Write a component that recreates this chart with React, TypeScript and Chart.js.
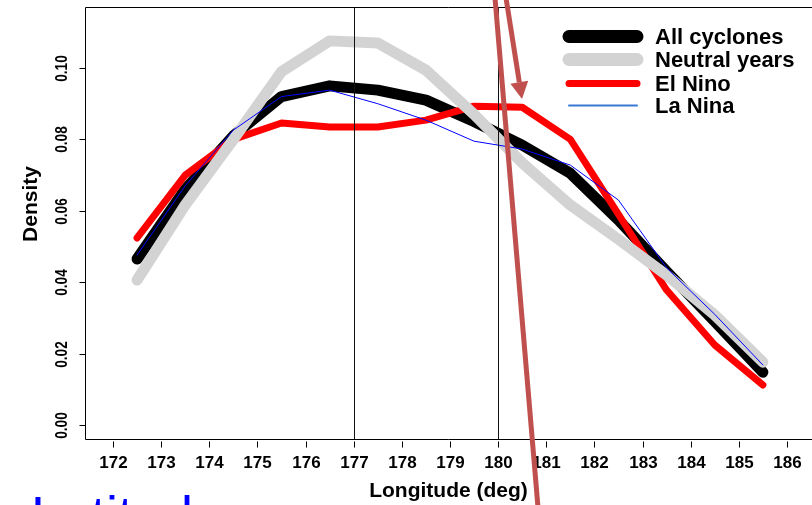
import React, { useEffect, useRef } from 'react';
import { Chart, registerables } from 'chart.js';

Chart.register(...registerables);

// ---- data ----
const longitudes = [172.5, 173.5, 174.5, 175.5, 176.5, 177.5, 178.5, 179.5, 180.5, 181.5, 182.5, 183.5, 184.5, 185.5];
const allCyclones = [0.0465, 0.066, 0.081, 0.092, 0.095, 0.0938, 0.091, 0.085, 0.0784, 0.0705, 0.0574, 0.043, 0.029, 0.0148];
const neutralYears = [0.0406, 0.0616, 0.080, 0.099, 0.1076, 0.107, 0.0994, 0.087, 0.0734, 0.0616, 0.052, 0.042, 0.0308, 0.0176];
const elNino = [0.0524, 0.070, 0.080, 0.0846, 0.0835, 0.0835, 0.0854, 0.0893, 0.0890, 0.080, 0.059, 0.0378, 0.0224, 0.0112];
const laNina = [0.0476, 0.067, 0.0826, 0.092, 0.0938, 0.090, 0.0854, 0.0795, 0.0773, 0.0728, 0.063, 0.044, 0.031, 0.0168];

const seriesLabels = ['All cyclones', 'Neutral years', 'El Nino', 'La Nina'];
const xTicks = [172, 173, 174, 175, 176, 177, 178, 179, 180, 181, 182, 183, 184, 185, 186];
const yTicks = [0, 0.02, 0.04, 0.06, 0.08, 0.10];
const yTickLabels = ['0.00', '0.02', '0.04', '0.06', '0.08', '0.10'];
const refLines = [177, 180];
const xTitle = 'Longitude (deg)';
const yTitle = 'Density';
const cutText = 'Latitude';

// annotation overlay (data coordinates)
const annoLongLine = [[179.935, 0.1196], [180.828, -0.023]];
const annoArrow = [[180.164, 0.1196], [180.496, 0.0913]];

const FONT = '"Liberation Sans", Arial, sans-serif';

const rPlugin = {
  id: 'rstyle',
  afterDatasetsDraw(chart: any) {
    const { ctx, chartArea, scales } = chart;
    const x = scales.x;
    ctx.save();
    ctx.strokeStyle = '#111';
    ctx.lineWidth = 1;
    refLines.forEach((v) => {
      const px = Math.round(x.getPixelForValue(v)) + 0.5;
      ctx.beginPath();
      ctx.moveTo(px, chartArea.top);
      ctx.lineTo(px, chartArea.bottom);
      ctx.stroke();
    });
    ctx.restore();
  },
  afterDraw(chart: any) {
    const { ctx, chartArea, scales } = chart;
    const x = scales.x, y = scales.y;
    const L = chartArea.left + 0.5, T = chartArea.top + 0.5, B = chartArea.bottom + 0.5, R = chartArea.right;
    ctx.save();
    // frame (left, top, bottom)
    ctx.strokeStyle = '#000';
    ctx.lineWidth = 1;
    ctx.beginPath();
    ctx.moveTo(R, T); ctx.lineTo(L, T); ctx.lineTo(L, B); ctx.lineTo(R, B);
    ctx.stroke();

    // x ticks + labels
    ctx.fillStyle = '#000';
    ctx.font = `bold 17px ${FONT}`;
    ctx.textAlign = 'center';
    ctx.textBaseline = 'alphabetic';
    xTicks.forEach((v) => {
      const px = Math.round(x.getPixelForValue(v)) + 0.5;
      ctx.beginPath();
      ctx.moveTo(px, B + 2);
      ctx.lineTo(px, B + 8);
      ctx.stroke();
      ctx.fillText(String(v), px, B + 28);
    });
    // y ticks + labels
    yTicks.forEach((v, i) => {
      const py = Math.round(y.getPixelForValue(v)) + 0.5;
      ctx.beginPath();
      ctx.moveTo(L - 6, py);
      ctx.lineTo(L, py);
      ctx.stroke();
      ctx.save();
      ctx.translate(67, py);
      ctx.rotate(-Math.PI / 2);
      ctx.scale(0.8, 1);
      ctx.font = `bold 17px ${FONT}`;
      ctx.textAlign = 'center';
      ctx.fillText(yTickLabels[i], 0, 0);
      ctx.restore();
    });
    // axis titles
    ctx.font = `bold 21px ${FONT}`;
    ctx.textAlign = 'center';
    ctx.fillText(xTitle, (chartArea.left + chartArea.right) / 2, 497);
    ctx.save();
    ctx.translate(37, 204);
    ctx.rotate(-Math.PI / 2);
    ctx.fillText(yTitle, 0, 0);
    ctx.restore();

    // legend
    const legendStyles = [
      { c: '#000000', w: 13 },
      { c: '#d3d3d3', w: 13 },
      { c: '#ff0000', w: 7 },
      { c: '#3a78d6', w: 2 },
    ];
    const baselines = [44, 67, 91, 113];
    ctx.font = `bold 22px ${FONT}`;
    ctx.textAlign = 'left';
    seriesLabels.forEach((lab, i) => {
      const ly = baselines[i] - 7.5;
      ctx.strokeStyle = legendStyles[i].c;
      ctx.lineWidth = legendStyles[i].w;
      ctx.lineCap = 'round';
      ctx.beginPath();
      ctx.moveTo(569, ly);
      ctx.lineTo(637, ly);
      ctx.stroke();
      ctx.fillStyle = '#000';
      ctx.fillText(lab, 655, baselines[i]);
    });

    // annotation overlay
    const ac = '#c0504d';
    ctx.strokeStyle = ac;
    ctx.fillStyle = ac;
    ctx.lineCap = 'butt';
    ctx.lineWidth = 5;
    ctx.beginPath();
    ctx.moveTo(x.getPixelForValue(annoLongLine[0][0]), y.getPixelForValue(annoLongLine[0][1]));
    ctx.lineTo(x.getPixelForValue(annoLongLine[1][0]), y.getPixelForValue(annoLongLine[1][1]));
    ctx.stroke();
    const ax0 = x.getPixelForValue(annoArrow[0][0]), ay0 = y.getPixelForValue(annoArrow[0][1]);
    const ax1 = x.getPixelForValue(annoArrow[1][0]), ay1 = y.getPixelForValue(annoArrow[1][1]);
    const ang = Math.atan2(ay1 - ay0, ax1 - ax0);
    const hl = 17, hw = 9;
    const bx = ax1 - hl * Math.cos(ang), by = ay1 - hl * Math.sin(ang);
    ctx.beginPath();
    ctx.moveTo(ax0, ay0);
    ctx.lineTo(bx, by);
    ctx.stroke();
    ctx.beginPath();
    ctx.moveTo(ax1, ay1);
    ctx.lineTo(bx + hw * Math.sin(ang), by - hw * Math.cos(ang));
    ctx.lineTo(bx - hw * Math.sin(ang), by + hw * Math.cos(ang));
    ctx.closePath();
    ctx.fill();

    // cut-off slide text (only the tops of its tall letters show)
    ctx.fillStyle = '#0000ff';
    ctx.font = `54px ${FONT}`;
    ctx.textAlign = 'left';
    ctx.fillText(cutText, 31, 534);
    ctx.restore();
  },
};

export default function App() {
  const ref = useRef<HTMLCanvasElement | null>(null);
  useEffect(() => {
    if (!ref.current) return;
    const toPts = (arr: number[]) => arr.map((v, i) => ({ x: longitudes[i], y: v }));
    const common = { tension: 0, pointRadius: 0, borderCapStyle: 'round', borderJoinStyle: 'round', fill: false };
    const chart = new Chart(ref.current, {
      type: 'line',
      data: {
        datasets: [
          { ...common, label: seriesLabels[0], data: toPts(allCyclones), borderColor: '#000000', borderWidth: 11, order: 3 },
          { ...common, label: seriesLabels[1], data: toPts(neutralYears), borderColor: '#d3d3d3', borderWidth: 11, order: 1 },
          { ...common, label: seriesLabels[2], data: toPts(elNino), borderColor: '#ff0000', borderWidth: 7, order: 2 },
          { ...common, label: seriesLabels[3], data: toPts(laNina), borderColor: '#0000ff', borderWidth: 1, order: 0 },
        ] as any,
      },
      options: {
        responsive: false,
        animation: false,
        devicePixelRatio: 1,
        layout: { padding: { top: 7, left: 0, right: 0, bottom: 0 } },
        plugins: { legend: { display: false }, tooltip: { enabled: false } },
        scales: {
          x: {
            type: 'linear',
            min: 171.4184,
            max: 186.52,
            grid: { display: false },
            border: { display: false },
            ticks: { display: false },
            afterFit: (s: any) => { s.height = 66; },
          },
          y: {
            type: 'linear',
            min: -0.00392,
            max: 0.11709,
            grid: { display: false },
            border: { display: false },
            ticks: { display: false },
            afterFit: (s: any) => { s.width = 85; },
          },
        },
      } as any,
      plugins: [rPlugin],
    });
    return () => chart.destroy();
  }, []);
  return (
    <div style={{ position: 'fixed', left: 0, top: 0, width: 812, height: 505, background: '#fff', overflow: 'hidden' }}>
      <canvas ref={ref} width={812} height={505} style={{ display: 'block' }} />
    </div>
  );
}
